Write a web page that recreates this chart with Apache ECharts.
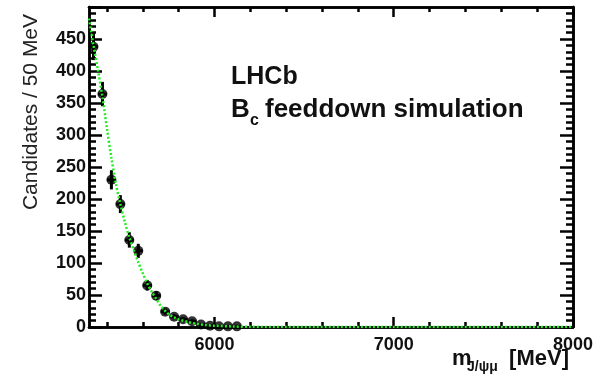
<!DOCTYPE html>
<html>
<head>
<meta charset="utf-8">
<script src="https://cdn.jsdelivr.net/npm/echarts@6/dist/echarts.min.js"></script>
<style>
  html, body { margin: 0; padding: 0; background: #fff; }
  #main { width: 601px; height: 377px; }
</style>
</head>
<body>
<div id="main"></div>
<script>
// bin centres (MeV) and candidates per 50 MeV
const binCentres = [5325, 5375, 5425, 5475, 5525, 5575, 5625, 5675, 5725, 5775, 5825, 5875, 5925, 5975, 6025, 6075, 6125];
const candidates = [438, 364, 230, 192, 136, 119, 65, 49, 24, 16, 12, 9, 4, 2, 1, 1, 1];
const candErrors = [21, 19, 15, 14, 12, 11, 8, 7, 5, 4, 3.5, 3, 2, 1.4, 1, 1, 1];
const binHalfWidth = 25;

// fitted shape (green dotted curve)
const fitMass = [5300, 5325, 5350, 5375, 5400, 5425, 5450, 5475, 5500, 5525, 5550, 5575, 5600, 5625, 5650, 5675, 5700, 5725, 5750, 5775, 5800, 5850, 5900, 5950, 6000, 6100, 6200, 6400, 7000, 8000];
const fitValues = [482, 440, 401, 360, 310, 264, 224, 192, 164, 140, 120, 101, 84, 68, 55, 44, 33, 25, 19, 15, 12, 8, 5, 3, 2, 0.8, 0.3, 0, 0, 0];

// axis ticks and labels
const xMajorTicks = [6000, 7000, 8000];
const xMinorTicks = [5400, 5600, 5800, 6200, 6400, 6600, 6800, 7200, 7400, 7600, 7800];
const yLabels = [0, 50, 100, 150, 200, 250, 300, 350, 400, 450];
const yMajorTicks = [0, 50, 100, 150, 200, 250, 300, 350, 400, 450, 500];
const yMinorTicks = [];
for (let v = 10; v < 500; v += 10) {
  if (v % 50 !== 0) yMinorTicks.push(v);
}

const FONT = "'Liberation Sans', Arial, sans-serif";
const X_MIN = 5300, X_MAX = 8000, Y_MIN = 0, Y_MAX = 500;

function xAxisDef(position, ticks, len, labels) {
  return {
    type: "value", min: X_MIN, max: X_MAX, position: position,
    axisLine: { show: true, onZero: false, lineStyle: { color: "#000", width: 2.5 } },
    axisTick: { show: true, inside: true, length: len, customValues: ticks, lineStyle: { color: "#000", width: 2.5 } },
    axisLabel: labels ? {
      show: true, customValues: ticks, margin: 9, color: "#111",
      fontFamily: FONT, fontSize: 18, fontWeight: "bold",
      formatter: (v) => String(v),
    } : { show: false },
    splitLine: { show: false },
  };
}

function yAxisDef(position, ticks, len, labels) {
  return {
    type: "value", min: Y_MIN, max: Y_MAX, position: position,
    axisLine: { show: true, onZero: false, lineStyle: { color: "#000", width: 2.5 } },
    axisTick: { show: true, inside: true, length: len, customValues: ticks, lineStyle: { color: "#000", width: 2.5 } },
    axisLabel: labels ? {
      show: true, customValues: yLabels, margin: 3, color: "#111",
      fontFamily: FONT, fontSize: 18, fontWeight: "bold",
      formatter: (v) => String(v),
    } : { show: false },
    splitLine: { show: false },
  };
}

function errorBars(params, api) {
  const x = api.value(0), y = api.value(1), e = api.value(2);
  const lo = api.coord([x, y - e]);
  const hi = api.coord([x, y + e]);
  const l = api.coord([x - binHalfWidth, y]);
  const r = api.coord([x + binHalfWidth, y]);
  const style = { stroke: "#000", lineWidth: 3 };
  return {
    type: "group",
    children: [
      { type: "line", shape: { x1: lo[0], y1: lo[1], x2: hi[0], y2: hi[1] }, style: style },
      { type: "line", shape: { x1: l[0], y1: l[1], x2: r[0], y2: r[1] }, style: style },
    ],
  };
}

function label(x, y, text, size, weight, align, fill) {
  return {
    type: "text", x: x, y: y,
    style: {
      text: text, fill: fill || "#111",
      font: weight + " " + size + "px " + FONT,
      align: align, verticalAlign: "middle",
    },
  };
}

const chart = echarts.init(document.getElementById("main"));
chart.setOption({
  animation: false,
  backgroundColor: "#fff",
  grid: { left: 89, right: 28, top: 7, bottom: 50, containLabel: false },
  xAxis: [
    xAxisDef("bottom", xMajorTicks, 10, true),
    xAxisDef("bottom", xMinorTicks, 5, false),
    xAxisDef("top", xMajorTicks, 10, false),
    xAxisDef("top", xMinorTicks, 5, false),
  ],
  yAxis: [
    yAxisDef("left", yMajorTicks, 13, true),
    yAxisDef("left", yMinorTicks, 7, false),
    yAxisDef("right", yMajorTicks, 13, false),
    yAxisDef("right", yMinorTicks, 7, false),
  ],
  series: [
    {
      type: "custom",
      renderItem: errorBars,
      data: binCentres.map((m, i) => [m, candidates[i], candErrors[i]]),
      z: 2,
    },
    {
      type: "scatter",
      data: binCentres.map((m, i) => [m, candidates[i]]),
      symbol: "circle",
      symbolSize: 10,
      itemStyle: { color: "#000" },
      z: 3,
    },
    {
      type: "line",
      data: fitMass.map((m, i) => [m, fitValues[i]]),
      smooth: 0.3,
      showSymbol: false,
      lineStyle: { color: "#22ee22", width: 2.5, type: [2, 2] },
      z: 4,
    },
  ],
  graphic: [
    {
      type: "text", x: 31, y: 112, rotation: Math.PI / 2,
      style: {
        text: "Candidates / 50 MeV", fill: "#222",
        font: "21px " + FONT, align: "center", verticalAlign: "middle",
      },
    },
    label(231, 77, "LHCb", 25, "bold", "left"),
    label(231, 110, "B", 26, "bold", "left"),
    label(250, 121, "c", 16, "bold", "left"),
    label(265, 110, "feeddown simulation", 26, "bold", "left"),
    label(452, 359, "m", 22, "bold", "left"),
    label(467, 367, "J/ψμ", 14, "bold", "left"),
    label(569, 359, "[MeV]", 22, "bold", "right"),
  ],
});
</script>
</body>
</html>
